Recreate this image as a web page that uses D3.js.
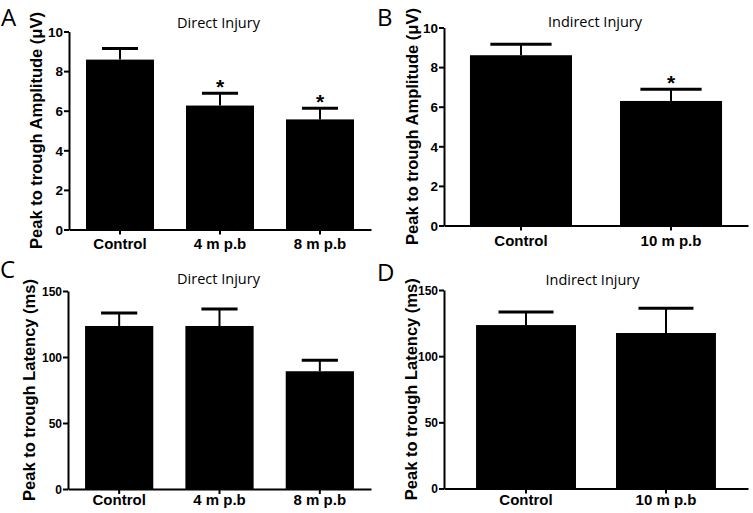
<!DOCTYPE html>
<head>
  <meta charset="utf-8">
  <script src="https://d3js.org/d3.v7.min.js"></script>
  <style>
  body,html {background:white; margin:0; padding:0;}
  .tick text {font-family:"Liberation Sans", Arial, sans-serif; font-weight:bold;}
  .ylab {font-family:"Liberation Sans", Arial, sans-serif; font-weight:bold; font-size:16.5px;}
  .title {font-family:"Open Sans", sans-serif; font-size:14.5px;}
  .letter {font-family:"Open Sans", sans-serif; font-size:24px;}
</style>
</head>

<body>
<svg id="chart"></svg>

<script>

  // amplitude (uV) and latency (ms), mean + SEM
  const directGroups = ["Control", "4 m p.b", "8 m p.b"];
  const indirectGroups = ["Control", "10 m p.b"];

  const ampDirect = [8.58, 6.26, 5.56];
  const ampDirectErr = [0.56, 0.62, 0.57];
  const ampDirectSig = [false, true, true];

  const ampIndirect = [8.6, 6.29];
  const ampIndirectErr = [0.56, 0.59];
  const ampIndirectSig = [false, true];

  const latDirect = [123.5, 123.5, 89.2];
  const latDirectErr = [9.8, 12.9, 8.3];

  const latIndirect = [123.5, 117.5];
  const latIndirectErr = [9.9, 18.7];

  const ampTicks = [0, 2, 4, 6, 8, 10];
  const latTicks = [0, 50, 100, 150];

  const width = 753, height = 513;
  const svg = d3.select("#chart").attr("width", width).attr("height", height);

  function drawPanel(p) {
    const g = svg.append("g");

    const x = d3.scaleBand()
      .domain(p.groups)
      .range([p.left, p.right])
      .paddingInner(p.padIn)
      .paddingOuter(p.padOut);

    const y = d3.scaleLinear()
      .domain([0, d3.max(p.ticks)])
      .range([p.bottom, p.top]);

    const rows = p.groups.map((k, i) => ({k: k, v: p.values[i], e: p.errs[i], s: p.sig ? p.sig[i] : false}));

    g.selectAll(".bar")
      .data(rows)
      .enter()
      .append("rect")
      .attr("class", "bar")
      .attr("x", d => x(d.k))
      .attr("width", x.bandwidth())
      .attr("y", d => y(d.v))
      .attr("height", d => y(0) - y(d.v))
      .attr("fill", "#000");

    // upper error bars only
    const capW = x.bandwidth() * p.cap;
    const eb = g.selectAll(".err").data(rows).enter().append("g").attr("class", "err");
    eb.append("line")
      .attr("x1", d => x(d.k) + x.bandwidth() / 2)
      .attr("x2", d => x(d.k) + x.bandwidth() / 2)
      .attr("y1", d => y(d.v))
      .attr("y2", d => y(d.v + d.e))
      .attr("stroke", "#000").attr("stroke-width", 2);
    eb.append("line")
      .attr("x1", d => x(d.k) + x.bandwidth() / 2 - capW / 2)
      .attr("x2", d => x(d.k) + x.bandwidth() / 2 + capW / 2)
      .attr("y1", d => y(d.v + d.e))
      .attr("y2", d => y(d.v + d.e))
      .attr("stroke", "#000").attr("stroke-width", 3);

    eb.filter(d => d.s)
      .append("text")
      .attr("x", d => x(d.k) + x.bandwidth() / 2)
      .attr("y", d => y(d.v + d.e) + 1)
      .attr("text-anchor", "middle")
      .style("font-family", "Liberation Sans, Arial, sans-serif")
      .style("font-weight", "bold")
      .style("font-size", "21px")
      .text("*");

    const yAxis = g.append("g")
      .attr("transform", `translate(${p.left},0)`)
      .call(d3.axisLeft(y).tickValues(p.ticks).tickSize(5).tickSizeOuter(0).tickPadding(1));
    yAxis.selectAll("text").style("font-size", p.tickFont + "px").attr("dy", "0.36em");

    const xAxis = g.append("g")
      .attr("transform", `translate(0,${p.bottom})`)
      .call(d3.axisBottom(x).tickSize(5).tickSizeOuter(0).tickPadding(0));
    xAxis.selectAll("text").style("font-size", "15px").attr("dy", null).attr("y", p.labGap);

    g.selectAll(".domain, .tick line").attr("stroke", "#000").attr("stroke-width", 2);
    g.selectAll(".tick text").attr("fill", "#000");

    g.append("text")
      .attr("class", "ylab")
      .attr("transform", `translate(${p.labX},${(p.top + p.bottom) / 2}) rotate(-90)`)
      .attr("text-anchor", "middle")
      .text(p.ylabel);

    g.append("text")
      .attr("class", "title")
      .attr("x", p.titleX)
      .attr("y", p.titleY)
      .attr("text-anchor", "middle")
      .text(p.title);

    g.append("text")
      .attr("class", "letter")
      .attr("x", p.letterX)
      .attr("y", p.letterY)
      .text(p.letter);
  }

  drawPanel({
    groups: directGroups, values: ampDirect, errs: ampDirectErr, sig: ampDirectSig, ticks: ampTicks,
    left: 69, right: 371, top: 31.5, bottom: 229.5, padIn: 0.32, padOut: 0.17, cap: 0.53, labGap: 19.5,
    tickFont: 13.5, labX: 42,
    ylabel: "Peak to trough Amplitude (\u03bcV)", title: "Direct Injury", titleX: 218.5, titleY: 28,
    letter: "A", letterX: 1, letterY: 26
  });

  drawPanel({
    groups: indirectGroups, values: ampIndirect, errs: ampIndirectErr, sig: ampIndirectSig, ticks: ampTicks,
    left: 444, right: 748, top: 27.5, bottom: 225.5, padIn: 0.32, padOut: 0.173, cap: 0.6, labGap: 20.5,
    tickFont: 13.5, labX: 418,
    ylabel: "Peak to trough Amplitude (\u03bcV)", title: "Indirect Injury", titleX: 595, titleY: 27,
    letter: "B", letterX: 377, letterY: 26
  });

  drawPanel({
    groups: directGroups, values: latDirect, errs: latDirectErr, ticks: latTicks,
    left: 68, right: 371, top: 291, bottom: 489, padIn: 0.32, padOut: 0.17, cap: 0.53, labGap: 15.5,
    tickFont: 12, labX: 35,
    ylabel: "Peak to trough Latency (ms)", title: "Direct Injury", titleX: 218.5, titleY: 284,
    letter: "C", letterX: 0, letterY: 278
  });

  drawPanel({
    groups: indirectGroups, values: latIndirect, errs: latIndirectErr, ticks: latTicks,
    left: 444, right: 748, top: 290, bottom: 488.5, padIn: 0.286, padOut: 0.229, cap: 0.55, labGap: 16.5,
    tickFont: 12, labX: 417,
    ylabel: "Peak to trough Latency (ms)", title: "Indirect Injury", titleX: 592.5, titleY: 285,
    letter: "D", letterX: 377, letterY: 281
  });

</script>
</body>
